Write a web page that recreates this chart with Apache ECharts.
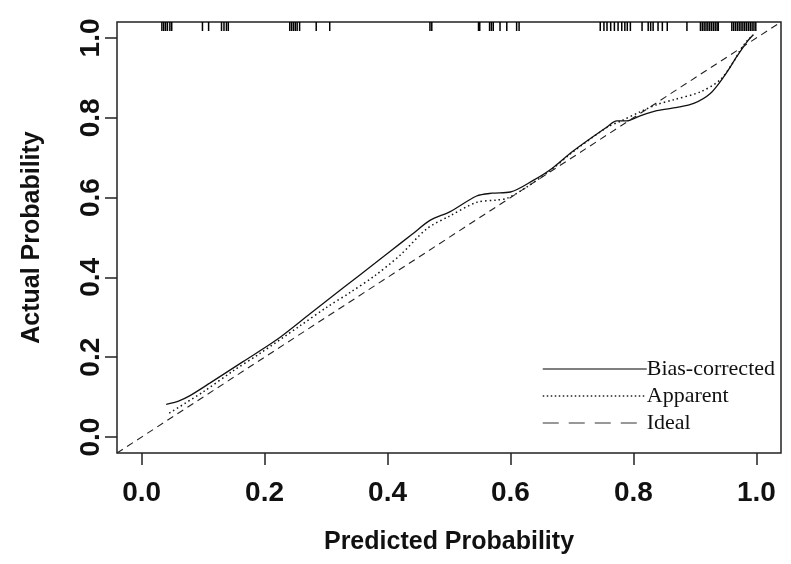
<!DOCTYPE html>
<html>
<head>
<meta charset="utf-8">
<title>Calibration curve</title>
<script src="https://cdn.jsdelivr.net/npm/echarts@6/dist/echarts.min.js"></script>
<style>
  html, body { margin: 0; padding: 0; background: #fff; }
  #chart { width: 791px; height: 564px; }
</style>
</head>
<body>
<div id="chart"></div>
<script>
// tick labels on both axes
const tickValues = [0, 0.2, 0.4, 0.6, 0.8, 1.0]

// bias-corrected curve (predicted, actual)
const biasX = [0.040, 0.060, 0.078, 0.111, 0.165, 0.219, 0.274, 0.328, 0.380, 0.404, 0.440, 0.469, 0.502, 0.545, 0.570, 0.600, 0.637, 0.664, 0.702, 0.757, 0.773, 0.789, 0.811, 0.838, 0.871, 0.898, 0.925, 0.947, 0.968, 0.985, 0.995]
const biasY = [0.082, 0.090, 0.103, 0.135, 0.189, 0.243, 0.309, 0.374, 0.436, 0.465, 0.508, 0.543, 0.565, 0.604, 0.611, 0.614, 0.643, 0.669, 0.717, 0.777, 0.792, 0.792, 0.805, 0.818, 0.826, 0.836, 0.861, 0.903, 0.953, 0.991, 1.008]

// apparent curve
const appX = [0.045, 0.100, 0.150, 0.192, 0.257, 0.301, 0.339, 0.380, 0.420, 0.464, 0.500, 0.545, 0.578, 0.594, 0.620, 0.664, 0.702, 0.757, 0.780, 0.811, 0.838, 0.865, 0.909, 0.941, 0.963, 0.974, 0.985, 0.995]
const appY = [0.060, 0.113, 0.167, 0.209, 0.278, 0.325, 0.362, 0.405, 0.455, 0.522, 0.553, 0.588, 0.594, 0.598, 0.620, 0.667, 0.715, 0.776, 0.792, 0.815, 0.833, 0.845, 0.865, 0.895, 0.941, 0.970, 0.993, 1.008]

// ideal diagonal, corner to corner of the plot box
const idealX = [-0.04, 1.04]
const idealY = [-0.04, 1.04]

// rug of predicted probabilities along the top
const rugValues = [
  0.033, 0.036, 0.039, 0.042, 0.046, 0.049, 0.099, 0.109, 0.130, 0.134, 0.138, 0.141,
  0.241, 0.244, 0.247, 0.250, 0.253, 0.257, 0.284, 0.306, 0.469, 0.472,
  0.548, 0.550, 0.566, 0.569, 0.572, 0.583, 0.594, 0.610, 0.614,
  0.746, 0.752, 0.757, 0.763, 0.769, 0.775, 0.781, 0.786, 0.790, 0.795,
  0.814, 0.824, 0.828, 0.832, 0.840, 0.847, 0.855, 0.887,
  0.909, 0.912, 0.915, 0.918, 0.921, 0.924, 0.927, 0.930, 0.933, 0.936, 0.938,
  0.960, 0.963, 0.966, 0.969, 0.972, 0.975, 0.978, 0.981, 0.984, 0.987, 0.990, 0.993, 0.996, 0.999
]

const zip = (xs, ys) => xs.map((x, i) => [x, ys[i]])

const chart = echarts.init(document.getElementById('chart'), null, { renderer: 'canvas' })

const axisCommon = {
  type: 'value',
  min: -0.04,
  max: 1.04,
  nameLocation: 'middle',
  nameTextStyle: { fontFamily: 'Liberation Sans', fontWeight: 'bold', fontSize: 25, color: '#111' },
  axisLine: { show: false, onZero: false },
  axisTick: { show: true, length: 12, inside: false, customValues: tickValues, lineStyle: { color: '#222', width: 1.5 } },
  axisLabel: {
    customValues: tickValues,
    fontFamily: 'Liberation Sans',
    fontWeight: 'bold',
    fontSize: 28,
    color: '#111',
    formatter: v => v.toFixed(1)
  },
  splitLine: { show: false }
}

const option = {
  animation: false,
  backgroundColor: '#fff',
  grid: {
    left: 117, right: 10, top: 22, bottom: 111,
    show: true, borderColor: '#222', borderWidth: 1.5, backgroundColor: 'transparent'
  },
  legend: {
    orient: 'vertical',
    left: 537,
    top: 353,
    itemWidth: 104,
    itemHeight: 14,
    itemGap: 5,
    itemStyle: { opacity: 0 },
    data: [
      { name: 'Bias-corrected', lineStyle: { color: '#555', width: 1.5, type: 'solid' } },
      { name: 'Apparent', lineStyle: { color: '#222', width: 1.5, type: [1.5, 2.5] } },
      { name: 'Ideal', lineStyle: { color: '#777', width: 1.5, type: [16, 10] } }
    ],
    textStyle: { fontFamily: 'Liberation Serif', fontSize: 22, color: '#111', padding: [0, 0, 0, -5] }
  },
  xAxis: {
    ...axisCommon,
    name: 'Predicted Probability',
    nameGap: 77,
    axisLabel: { ...axisCommon.axisLabel, margin: 26 }
  },
  yAxis: {
    ...axisCommon,
    name: 'Actual Probability',
    nameGap: 72,
    nameRotate: 90,
    axisLabel: { ...axisCommon.axisLabel, rotate: 90, margin: 12 }
  },
  series: [
    {
      name: 'Bias-corrected',
      type: 'line',
      data: zip(biasX, biasY),
      symbol: 'none',
      smooth: 0.3,
      lineStyle: { color: '#111', width: 1.3, type: 'solid' },
      itemStyle: { color: '#111' }
    },
    {
      name: 'Apparent',
      type: 'line',
      data: zip(appX, appY),
      symbol: 'none',
      smooth: 0.3,
      lineStyle: { color: '#111', width: 1.5, type: [1.5, 3] },
      itemStyle: { color: '#111' }
    },
    {
      name: 'Ideal',
      type: 'line',
      data: zip(idealX, idealY),
      symbol: 'none',
      lineStyle: { color: '#222', width: 1.1, type: [7, 5] },
      itemStyle: { color: '#666' }
    },
    {
      name: 'rug',
      type: 'custom',
      data: rugValues.map(v => [v, 1]),
      encode: { x: 0, y: 1 },
      silent: true,
      renderItem: (params, api) => {
        const x = api.coord([api.value(0), 0])[0]
        const top = params.coordSys.y
        return {
          type: 'line',
          shape: { x1: x, y1: top, x2: x, y2: top + 9 },
          style: { stroke: '#000', lineWidth: 1.5 }
        }
      }
    }
  ]
}

chart.setOption(option)
</script>
</body>
</html>
